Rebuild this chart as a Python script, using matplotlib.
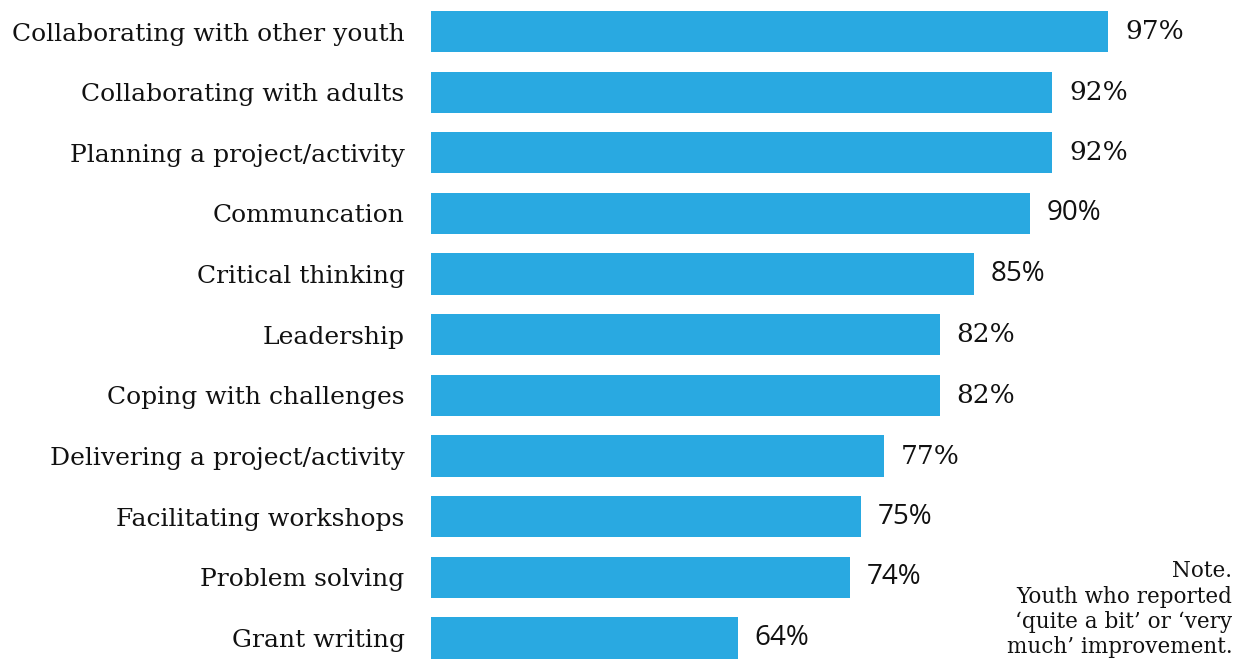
import numpy as np
import matplotlib
matplotlib.use('Agg')
import matplotlib.pyplot as plt

# data
skills = ['Collaborating with other youth', 'Collaborating with adults',
          'Planning a project/activity', 'Communcation', 'Critical thinking',
          'Leadership', 'Coping with challenges', 'Delivering a project/activity',
          'Facilitating workshops', 'Problem solving', 'Grant writing']
percent = [97, 92, 92, 90, 85, 82, 82, 77, 75, 74, 64]

# the value labels in the original mix two typefaces
serif_font = 'DejaVu Serif'
sans_font = 'Open Sans'
value_fonts = [serif_font, serif_font, serif_font, sans_font, sans_font,
               serif_font, serif_font, serif_font, sans_font, sans_font, sans_font]
value_sizes = {serif_font: 19, sans_font: 20}

bar_color = '#29a9e1'

fig = plt.figure(figsize=(12.36, 6.61), dpi=100)
ax = fig.add_axes([0.3487, 0, 0.6513, 1])

y = np.arange(len(skills))
ax.barh(y, percent, height=0.68, color=bar_color)

for yi, v, f in zip(y, percent, value_fonts):
    ax.annotate(f'{v}%', xy=(v, yi), xytext=(12, 0), textcoords='offset points',
                va='center', ha='left', fontsize=value_sizes[f], family=f, color='#111111')

ax.set_yticks(y)
ax.set_yticklabels(skills, fontsize=18, family=serif_font, color='#111111')
ax.tick_params(axis='y', length=0, pad=19)
ax.set_xticks([])
ax.set_xlim(36.7, 108.35)
ax.set_ylim(10.38, -0.52)
for s in ax.spines.values():
    s.set_visible(False)

fig.text(0.997, 0.004, "Note.\nYouth who reported\n\u2018quite a bit\u2019 or \u2018very\nmuch\u2019 improvement.",
         ha='right', va='bottom', fontsize=15.5, family=serif_font,
         color='#111111', linespacing=1.2, multialignment='right')

fig.savefig('out.png', dpi=100)
